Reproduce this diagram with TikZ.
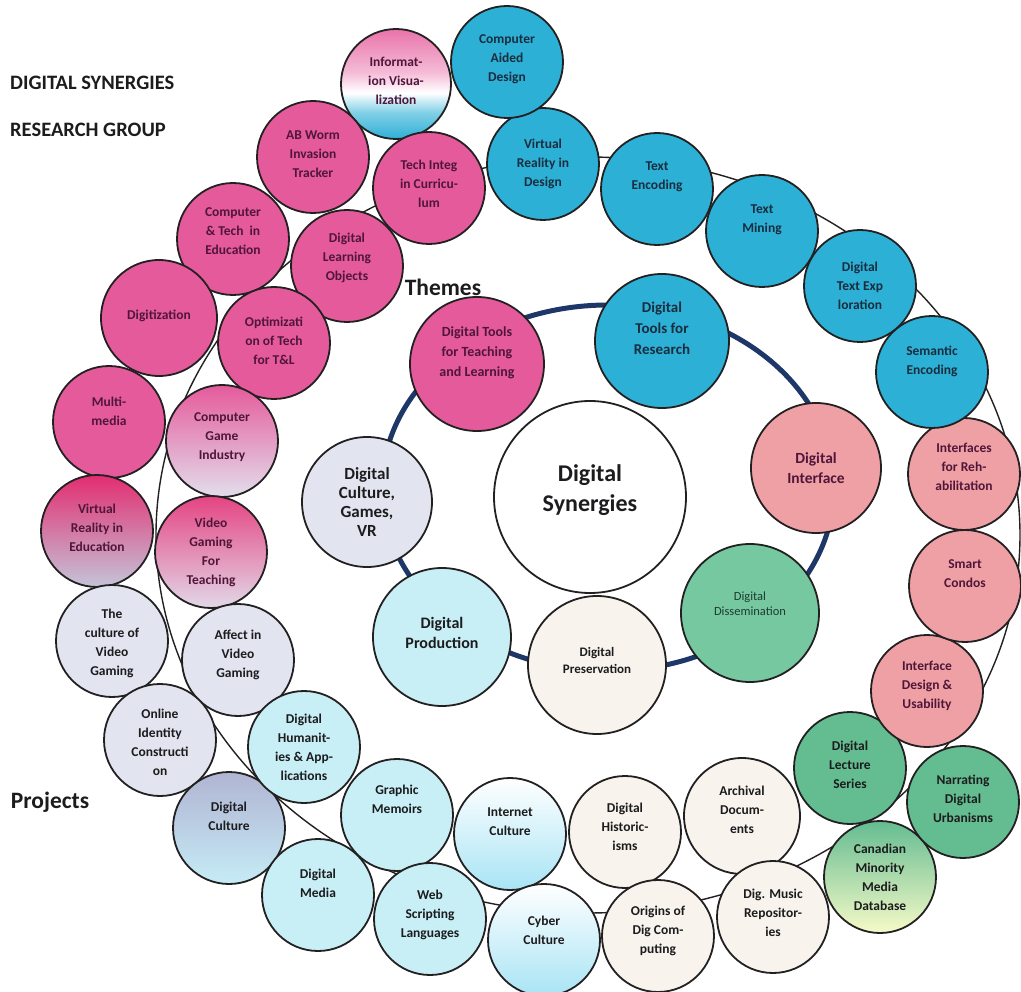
\documentclass[tikz,border=0pt]{standalone}
\usepackage{fontspec}
\setmainfont{Carlito}
\definecolor{pinkc}{RGB}{229,90,155}
\definecolor{cyanc}{RGB}{45,176,214}
\definecolor{salmon}{RGB}{238,160,164}
\definecolor{greenc}{RGB}{100,188,145}
\definecolor{greenl}{RGB}{118,200,160}
\definecolor{offw}{RGB}{248,244,237}
\definecolor{lcyan}{RGB}{200,239,245}
\definecolor{lav}{RGB}{226,229,240}
\definecolor{outl}{RGB}{35,32,34}
\definecolor{navy}{RGB}{30,55,105}
\definecolor{tpk}{RGB}{80,22,58}
\definecolor{tcy}{RGB}{25,45,62}
\definecolor{tdk}{RGB}{28,28,30}
\definecolor{tgr}{RGB}{30,60,45}
\pgfdeclareverticalshading{ivshade}{100bp}{color(0bp)=(cyanc); color(25bp)=(cyanc); color(37bp)=(cyanc!60!white); color(46bp)=(white); color(55bp)=(pinkc!40!white); color(75bp)=(pinkc!85!white); color(100bp)=(pinkc!85!white)}
\tikzset{
  bub/.style={circle, draw=outl, line width=1.8pt, inner sep=0pt, minimum size=112pt},
  thm/.style={bub, minimum size=134pt},
  pk/.style={bub, fill=pinkc},
  cy/.style={bub, fill=cyanc},
  sa/.style={bub, fill=salmon},
  gr/.style={bub, fill=greenc},
  ow/.style={bub, fill=offw},
  lc/.style={bub, fill=lcyan},
  lv/.style={bub, fill=lav},
  lbl/.style={align=center, inner sep=0pt, font=\fontsize{13.5}{19}\selectfont\bfseries},
  lpk/.style={lbl, text=tpk},
  lcy/.style={lbl, text=tcy},
  ldk/.style={lbl, text=tdk},
  title/.style={anchor=west, inner sep=0pt, font=\fontsize{20.5}{22}\selectfont\bfseries, text=tdk},
  head/.style={inner sep=0pt, font=\fontsize{23.5}{26}\selectfont\bfseries, text=tdk}
}
% name, x, y, circle style, text dy, text, text style
\newcommand\bub[7]{%
  \node[#4] (#1) at (#2,#3) {};
  \node[#7] (#1-t) at ([shift={(0,#5)}]#1.center) {#6};}
\begin{document}
\begin{tikzpicture}[x=1pt,y=-1pt]
\useasboundingbox (0,0) rectangle (1021,992);
% rings
\draw[line width=1.4pt, color=outl] (588,535) ellipse [x radius=432pt, y radius=378pt];
\draw[line width=5pt, color=navy] (608,488) ellipse [x radius=226pt, y radius=183pt];
% titles
\node[title] (t1) at (10,83) {DIGITAL SYNERGIES};
\node[title] (t2) at (10,130) {RESEARCH GROUP};
\node[head] (themes) at (443,287) {Themes};
\node[head] (projects) at (50,802) {Projects};
% projects - pink group
\bub{infovis}{396}{84}{bub, minimum size=110pt, shading=ivshade}{-3}{Informat-\\ion Visua-\\lization}{lpk}
\bub{abworm}{313}{157}{pk}{-3}{AB Worm\\Invasion\\Tracker}{lpk}
\bub{techinteg}{429}{188}{pk}{-4}{Tech Integ\\in Curricu-\\lum}{lpk}
\bub{comptech}{233}{239}{pk}{-8}{Computer\\\& Tech\ \ in\\Education}{lpk}
\bub{dlo}{347}{266}{pk}{-8}{Digital\\Learning\\Objects}{lpk}
\bub{digitization}{159}{318}{pk, minimum size=116pt}{-2}{Digitization}{lpk}
\bub{optim}{274}{343}{pk}{-2}{Optimizati\\on of Tech\\for T\&L}{lpk}
\bub{multimedia}{109}{422}{pk}{-11}{Multi-\\media}{lpk}
\bub{cgi}{222}{441}{bub, top color=pinkc, bottom color={rgb,255:red,226;green,222;blue,236}}{-4}{Computer\\Game\\Industry}{lpk}
\bub{vredu}{97}{531}{bub, top color={rgb,255:red,226;green,45;blue,112}, bottom color={rgb,255:red,196;green,196;blue,216}}{-3}{Virtual\\Reality in\\Education}{lpk}
\bub{vgteach}{211}{552}{bub, top color={rgb,255:red,228;green,68;blue,130}, bottom color={rgb,255:red,226;green,216;blue,232}}{0}{Video\\Gaming\\For\\Teaching}{lpk}
% lavender group
\bub{cultvg}{112}{641}{lv}{2}{The\\culture of\\Video\\Gaming}{ldk}
\bub{affect}{238}{660}{lv}{-5}{Affect in\\Video\\Gaming}{ldk}
\bub{online}{160}{740}{lv}{2}{Online\\Identity\\Constructi\\on}{ldk}
\bub{dculture}{229}{828}{bub, top color={rgb,255:red,176;green,180;blue,210}, bottom color={rgb,255:red,198;green,236;blue,246}}{-12}{Digital\\Culture}{ldk}
% light cyan group
\bub{dhum}{304}{747}{lc}{0}{Digital\\Humanit-\\ies \& App-\\lications}{ldk}
\bub{graphic}{397}{815}{lc}{-16}{Graphic\\Memoirs}{ldk}
\bub{dmedia}{318}{895}{lc}{-12}{Digital\\Media}{ldk}
\bub{webscript}{430}{919}{lc}{-4}{Web\\Scripting\\Languages}{ldk}
\bub{internet}{510}{834}{bub, top color=white, middle color=offw, bottom color={rgb,255:red,168;green,228;blue,245}}{-12}{Internet\\Culture}{ldk}
\bub{cyber}{544}{940}{bub, top color=white, middle color=offw, bottom color={rgb,255:red,168;green,228;blue,245}}{-10}{Cyber\\Culture}{ldk}
% off-white group
\bub{dhist}{625}{832}{ow}{-5}{Digital\\Historic-\\isms}{ldk}
\bub{origins}{658}{936}{ow}{-5}{Origins of\\Dig Com-\\puting}{ldk}
\bub{archival}{742}{816}{ow, minimum size=116pt}{-6}{Archival\\Docum-\\ents}{ldk}
\bub{digmusic}{773}{917}{ow}{-4}{Dig. Music\\Repositor-\\ies}{ldk}
% green group
\bub{canadian}{880}{877}{bub, top color=greenc, middle color={rgb,255:red,200;green,232;blue,170}, bottom color={rgb,255:red,246;green,250;blue,200}}{0}{Canadian\\Minority\\Media\\Database}{ldk}
\bub{lecture}{850}{768}{gr}{-3}{Digital\\Lecture\\Series}{ldk}
\bub{narrating}{963}{802}{gr}{-3}{Narrating\\Digital\\Urbanisms}{ldk}
% salmon group
\bub{ifdesign}{927}{691}{sa}{-5}{Interface\\Design \&\\Usability}{lpk}
\bub{smart}{965}{586}{sa}{-12}{Smart\\Condos}{lpk}
\bub{rehab}{964}{474}{sa}{-7}{Interfaces\\for Reh-\\abilitation}{lpk}
% cyan group
\bub{semantic}{932}{372}{cy}{-11}{Semantic\\Encoding}{lcy}
\bub{textexp}{860}{286}{cy}{0}{Digital\\Text Exp\\loration}{lcy}
\bub{textmining}{762}{231}{cy}{-11}{Text\\Mining}{lcy}
\bub{textenc}{657}{189}{cy}{-12}{Text\\Encoding}{lcy}
\bub{vrdesign}{543}{164}{cy}{0}{Virtual\\Reality in\\Design}{lcy}
\bub{cad}{507}{62}{cy}{-3}{Computer\\Aided\\Design}{lcy}
% themes
\bub{teach}{477}{364}{thm, fill=pinkc}{-11}{Digital Tools\\for Teaching\\and Learning}{lpk, font=\fontsize{14}{20}\selectfont\bfseries}
\bub{research}{662}{341}{thm, fill=cyanc}{-13}{Digital\\Tools for\\Research}{lcy, font=\fontsize{15}{21}\selectfont\bfseries}
\bub{interface}{816}{468}{thm, minimum size=130pt, fill=salmon}{0}{Digital\\Interface}{lpk, font=\fontsize{15.5}{20}\selectfont\bfseries}
\bub{dissem}{750}{613}{thm, minimum size=138pt, fill=greenl}{-9}{Digital\\Dissemination}{lbl, text=tgr, font=\fontsize{12.5}{15}\selectfont}
\bub{preserv}{597}{665}{thm, minimum size=138pt, fill=offw}{-5}{Digital\\Preservation}{ldk, font=\fontsize{13}{17}\selectfont\bfseries}
\bub{production}{442}{637}{thm, minimum size=138pt, fill=lcyan}{-4}{Digital\\Production}{ldk, font=\fontsize{16}{20}\selectfont\bfseries}
\bub{culturevr}{367}{502}{thm, minimum size=130pt, fill=lav}{0}{Digital\\Culture,\\Games,\\VR}{ldk, font=\fontsize{17}{19}\selectfont\bfseries}
% centre
\bub{synergies}{590}{497}{bub, minimum size=192pt, fill=white}{-7}{Digital\\Synergies}{ldk, font=\fontsize{24}{30}\selectfont\bfseries}
\end{tikzpicture}
\end{document}
